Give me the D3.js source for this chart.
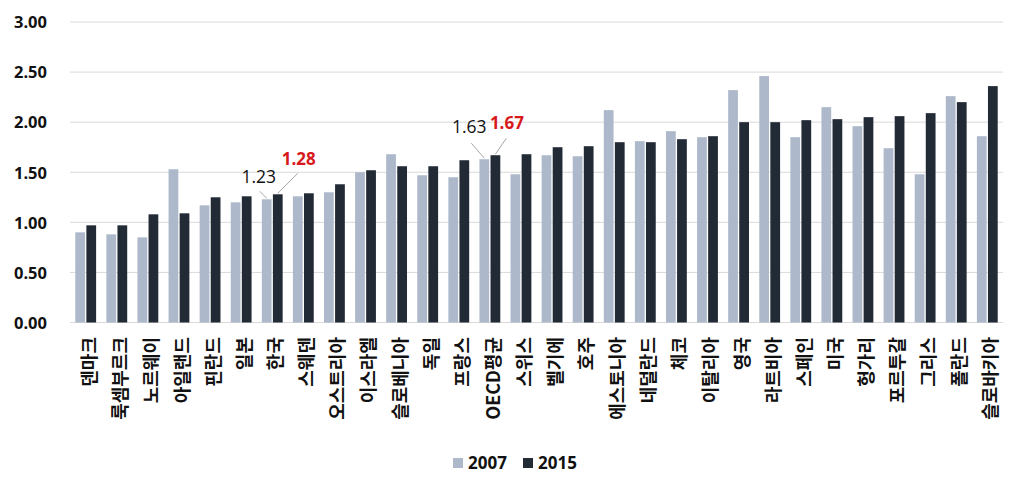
<!DOCTYPE html>
<html>
<head>
<meta charset="utf-8">
<script src="https://cdn.jsdelivr.net/npm/d3@7"></script>
<style>
  html, body { margin: 0; padding: 0; background: #fff; }
  svg { display: block; }
</style>
</head>
<body>
<svg id="chart" width="1024" height="492"></svg>
<script>
const categories = ["덴마크","룩셈부르크","노르웨이","아일랜드","핀란드","일본","한국","스웨덴","오스트리아","이스라엘","슬로베니아","독일","프랑스","OECD평균","스위스","벨기에","호주","에스토니아","네덜란드","체코","이탈리아","영국","라트비아","스페인","미국","헝가리","포르투갈","그리스","폴란드","슬로바키아"];
const seriesNames = ["2007","2015"];
const values2007 = [0.90,0.88,0.85,1.53,1.17,1.20,1.23,1.26,1.30,1.50,1.68,1.47,1.45,1.63,1.48,1.67,1.66,2.12,1.81,1.91,1.85,2.32,2.46,1.85,2.15,1.96,1.74,1.48,2.26,1.86];
const values2015 = [0.97,0.97,1.08,1.09,1.25,1.26,1.28,1.29,1.38,1.52,1.56,1.56,1.62,1.67,1.68,1.75,1.76,1.80,1.80,1.83,1.86,2.00,2.00,2.02,2.03,2.05,2.06,2.09,2.20,2.36];
const yTicks = [0,0.5,1,1.5,2,2.5,3];
const annotated = ["한국","OECD평균"];

const colors = ["#adb9ca","#222a35"];
const svg = d3.select("#chart");
const plotLeft = 70, plotRight = 1003, plotTop = 22, plotBottom = 322.5;

const x0 = d3.scaleBand().domain(categories).range([plotLeft, plotRight]).paddingInner(0.33).paddingOuter(0.17);
const x1 = d3.scaleBand().domain(seriesNames).range([0, x0.bandwidth()]).paddingInner(0.12);
const y = d3.scaleLinear().domain([0,3]).range([plotBottom, plotTop]);

// gridlines
svg.append("g").selectAll("line").data(yTicks).join("line")
  .attr("x1", plotLeft).attr("x2", plotRight)
  .attr("y1", d => y(d)).attr("y2", d => y(d))
  .attr("stroke", "#d9d9d9").attr("stroke-width", 1);

// y axis labels
const yAxis = d3.axisLeft(y).tickValues(yTicks).tickFormat(d3.format(".2f")).tickSize(0).tickPadding(0);
const ya = svg.append("g").attr("transform", `translate(47,0)`).call(yAxis);
ya.select(".domain").remove();
ya.selectAll("text").attr("font-family", "'Open Sans', sans-serif").attr("font-weight", "bold")
  .attr("font-size", 16.5).attr("fill", "#111").attr("dy", "0.35em");

// bars
const data = categories.map((c, i) => ({cat: c, vals: [values2007[i], values2015[i]]}));
const groups = svg.append("g").selectAll("g").data(data).join("g")
  .attr("transform", d => `translate(${x0(d.cat)},0)`);
groups.selectAll("rect").data(d => d.vals.map((v, j) => ({s: seriesNames[j], v, j}))).join("rect")
  .attr("x", d => x1(d.s)).attr("width", x1.bandwidth())
  .attr("y", d => y(d.v)).attr("height", d => y(0) - y(d.v))
  .attr("fill", d => colors[d.j]);

// x labels (rotated)
svg.append("g").selectAll("text").data(categories).join("text")
  .attr("transform", d => `translate(${x0(d) + x0.bandwidth()/2 + 3.5},337) rotate(-90)`)
  .attr("text-anchor", "end").attr("dy", "0.36em")
  .attr("font-family", "'Noto Sans CJK KR', sans-serif").attr("font-weight", "bold")
  .attr("font-size", 18).attr("fill", "#111")
  .text(d => d);

// annotations
const ann = svg.append("g");
annotated.forEach(cat => {
  const i = categories.indexOf(cat);
  const isKorea = cat === "한국";
  const gx = x0(cat) + x1("2007") + x1.bandwidth()/2;
  const dxp = x0(cat) + x1("2015") + x1.bandwidth()/2;
  const gy = y(values2007[i]), dy = y(values2015[i]);
  const gOff = isKorea ? {tx: -8, ty: -16, lx1: -7, ly1: -8} : {tx: -15, ty: -26, lx1: -13, ly1: -16};
  const dOff = isKorea ? {tx: 21, ty: -29, lx1: 20, ly1: -21} : {tx: 11.5, ty: -26, lx1: 11, ly1: -17};
  ann.append("line").attr("x1", gx + gOff.lx1).attr("y1", gy + gOff.ly1).attr("x2", gx).attr("y2", gy - 1)
    .attr("stroke", "#a6a6a6").attr("stroke-width", 1);
  ann.append("line").attr("x1", dxp + dOff.lx1).attr("y1", dy + dOff.ly1).attr("x2", dxp).attr("y2", dy - 1)
    .attr("stroke", "#a6a6a6").attr("stroke-width", 1);
  ann.append("text").attr("x", gx + gOff.tx).attr("y", gy + gOff.ty).attr("text-anchor", "middle")
    .attr("font-family", "'Open Sans', sans-serif").attr("font-size", 17.5).attr("fill", "#111")
    .text(d3.format(".2f")(values2007[i]));
  ann.append("text").attr("x", dxp + dOff.tx).attr("y", dy + dOff.ty).attr("text-anchor", "middle")
    .attr("font-family", "'Open Sans', sans-serif").attr("font-weight", "bold").attr("font-size", 17).attr("fill", "#d7191c")
    .text(d3.format(".2f")(values2015[i]));
});

// legend
const legend = svg.append("g");
const legX = [453, 523];
seriesNames.forEach((s, j) => {
  legend.append("rect").attr("x", legX[j]).attr("y", 458).attr("width", 10).attr("height", 10).attr("fill", colors[j]);
  legend.append("text").attr("x", legX[j] + 15).attr("y", 468.5)
    .attr("font-family", "'Open Sans', sans-serif").attr("font-weight", "bold").attr("font-size", 17).attr("fill", "#111")
    .text(s);
});
</script>
</body>
</html>
